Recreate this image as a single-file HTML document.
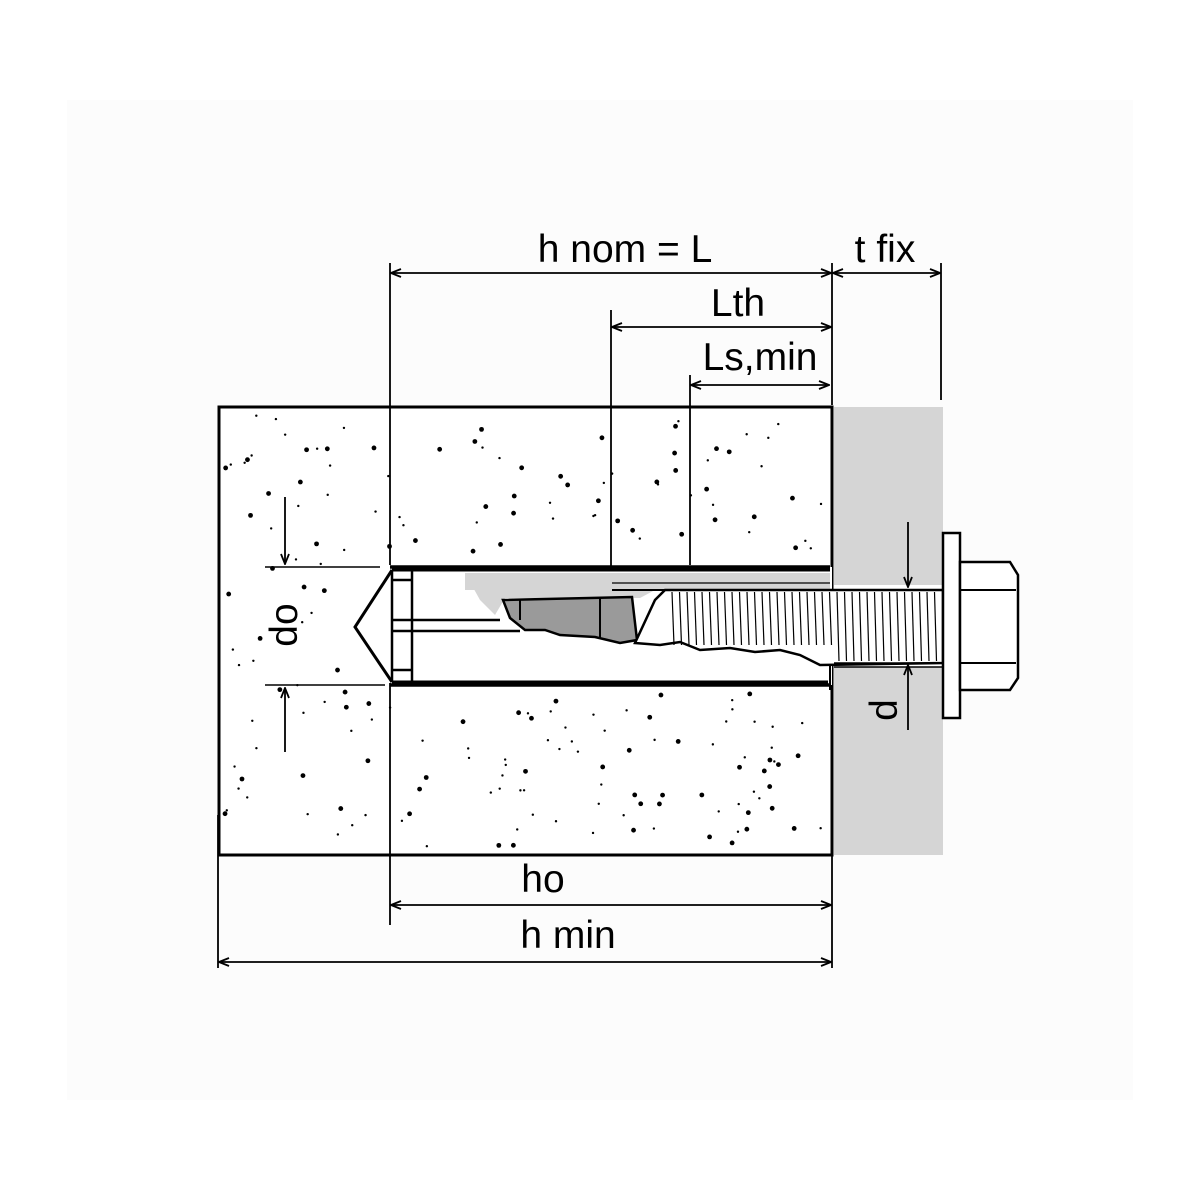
<!DOCTYPE html>
<html><head><meta charset="utf-8"><style>
html,body{margin:0;padding:0;background:#fff}
svg{display:block}
text{font-family:"Liberation Sans",Arial,sans-serif;fill:#000}
</style></head><body>
<svg id="s" width="1200" height="1200" viewBox="0 0 1200 1200" xmlns="http://www.w3.org/2000/svg">
<defs>
<marker id="a" viewBox="0 0 12 10" refX="11" refY="5" markerWidth="12" markerHeight="10" markerUnits="userSpaceOnUse" orient="auto-start-reverse">
<path d="M1,1 L11,5 L1,9" fill="none" stroke="#000" stroke-width="1.8"/>
</marker>
</defs>
<rect x="67" y="100" width="1066" height="1000" fill="#fcfcfc"/>
<rect x="834" y="407" width="109" height="448" fill="#d5d5d5"/>
<rect x="219" y="407" width="613" height="448" fill="#fff" stroke="#000" stroke-width="3"/>
<g id="dots"></g>
<g stroke="#000" fill="none" stroke-width="2">
<rect x="392" y="567" width="440" height="118" fill="#fff" stroke="none"/>
<rect x="834" y="585" width="109" height="82" fill="#fff" stroke="none"/>
<line x1="390" y1="567" x2="830" y2="567" stroke-width="3.5"/>
<line x1="390" y1="685" x2="830" y2="685" stroke-width="3.5"/>
<line x1="265" y1="567" x2="380" y2="567" stroke-width="1.5"/>
<line x1="265" y1="685" x2="385" y2="685" stroke-width="1.5"/>
<line x1="390" y1="263" x2="390" y2="565" stroke-width="1.8"/>
<line x1="390" y1="683" x2="390" y2="925" stroke-width="1.8"/>
<line x1="611" y1="310" x2="611" y2="570" stroke-width="1.8"/>
<line x1="690" y1="375" x2="690" y2="565" stroke-width="1.8"/>
<line x1="832" y1="263" x2="832" y2="405" stroke-width="1.8"/>
<line x1="941" y1="263" x2="941" y2="400" stroke-width="1.8"/>
<line x1="218" y1="815" x2="218" y2="968" stroke-width="1.8"/>
<line x1="832" y1="855" x2="832" y2="968" stroke-width="1.8"/>
<path d="M465,573 L830,573 L830,590 L465,590 Z" fill="#d5d5d5" stroke="none"/>
<path d="M465,573 L480,600 L495,615 L505,598 L640,598 L655,590 L465,590Z" fill="#d5d5d5" stroke="none"/>
<path d="M392,570 L830,570 M392,682 L828,682" stroke-width="3"/>
<path d="M392,570 L355,627 L392,682" stroke-width="3"/>
<path d="M392,570 L392,682 M412,570 L412,682 M392,580 L412,580 M392,670 L412,670" stroke-width="2.5"/>
<path d="M392,620 L500,620 M392,631 L520,631" stroke-width="2.5"/>
<path d="M612,590 L830,590" stroke-width="2"/>
<path d="M612,583 L830,583" stroke-width="1.2"/>
<path d="M820,650 L830,650 L830,690" stroke-width="2"/>
<path d="M503,600 L632,597 L637,640 L620,643 L595,637 L560,635 L545,630 L525,630 L510,618 Z" fill="#9a9a9a" stroke-width="2.5"/>
<line x1="600" y1="598" x2="600" y2="638"/>
<line x1="520" y1="600" x2="520" y2="620"/>
<path d="M665,590 L943,590 L943,663 L820,665 L800,655 L780,650 L755,652 L730,648 L700,650 L680,642 L660,645 L635,643 L655,600 Z" fill="#fff" stroke-width="2.5"/>
<path d="M834,663 L943,663 M834,667 L943,667" stroke-width="1.5"/>
<g id="thr" stroke-width="1.2"></g>
<rect x="943" y="533" width="17" height="185" fill="#fff" stroke-width="2.5"/>
<path d="M960,562 L1010,562 L1018,575 L1018,678 L1010,690 L960,690 Z" fill="#fff" stroke-width="2.5"/>
<path d="M960,590 L1016,590 M960,663 L1016,663" stroke-width="2"/>
<g stroke-width="1.8" marker-start="url(#a)" marker-end="url(#a)">
<line x1="391" y1="273" x2="831" y2="273"/>
<line x1="833" y1="273" x2="940" y2="273"/>
<line x1="612" y1="327" x2="831" y2="327"/>
<line x1="691" y1="385" x2="829" y2="385"/>
<line x1="391" y1="905" x2="831" y2="905"/>
<line x1="219" y1="962" x2="831" y2="962"/>
</g>
<g stroke-width="1.8" marker-end="url(#a)">
<line x1="908" y1="522" x2="908" y2="587"/>
<line x1="908" y1="730" x2="908" y2="665"/>
<line x1="285" y1="497" x2="285" y2="564"/>
<line x1="285" y1="752" x2="285" y2="688"/>
</g>
</g>
<g font-size="39">
<text x="625" y="262" text-anchor="middle">h nom = L</text>
<text x="885" y="262" text-anchor="middle">t fix</text>
<text x="738" y="316" text-anchor="middle">Lth</text>
<text x="760" y="370" text-anchor="middle">Ls,min</text>
<text x="543" y="892" text-anchor="middle">ho</text>
<text x="568" y="948" text-anchor="middle">h min</text>
<text transform="translate(297,625) rotate(-90)" text-anchor="middle">do</text>
<text transform="translate(897,710) rotate(-90)" text-anchor="middle">d</text>
</g>
</svg>
<script>
(function(){
var ns="http://www.w3.org/2000/svg",g=document.getElementById("dots"),seed=7;
function r(){seed=(seed*16807)%2147483647;return seed/2147483647;}
for(var i=0;i<260;i++){var x=225+r()*600,y=415+r()*433;
if(y>560&&y<692&&x>340)continue;
var c=document.createElementNS(ns,"circle");c.setAttribute("cx",x);c.setAttribute("cy",y);
c.setAttribute("r",r()<0.45?2.4:1.2);c.setAttribute("fill","#000");g.appendChild(c);}
var t=document.getElementById("thr");
for(var x=672;x<940;x+=7.5){var l=document.createElementNS(ns,"line");
l.setAttribute("x1",x);l.setAttribute("y1",592);l.setAttribute("x2",x+2);l.setAttribute("y2",x<830?645:661);t.appendChild(l);}
})();
</script>
</body></html>
